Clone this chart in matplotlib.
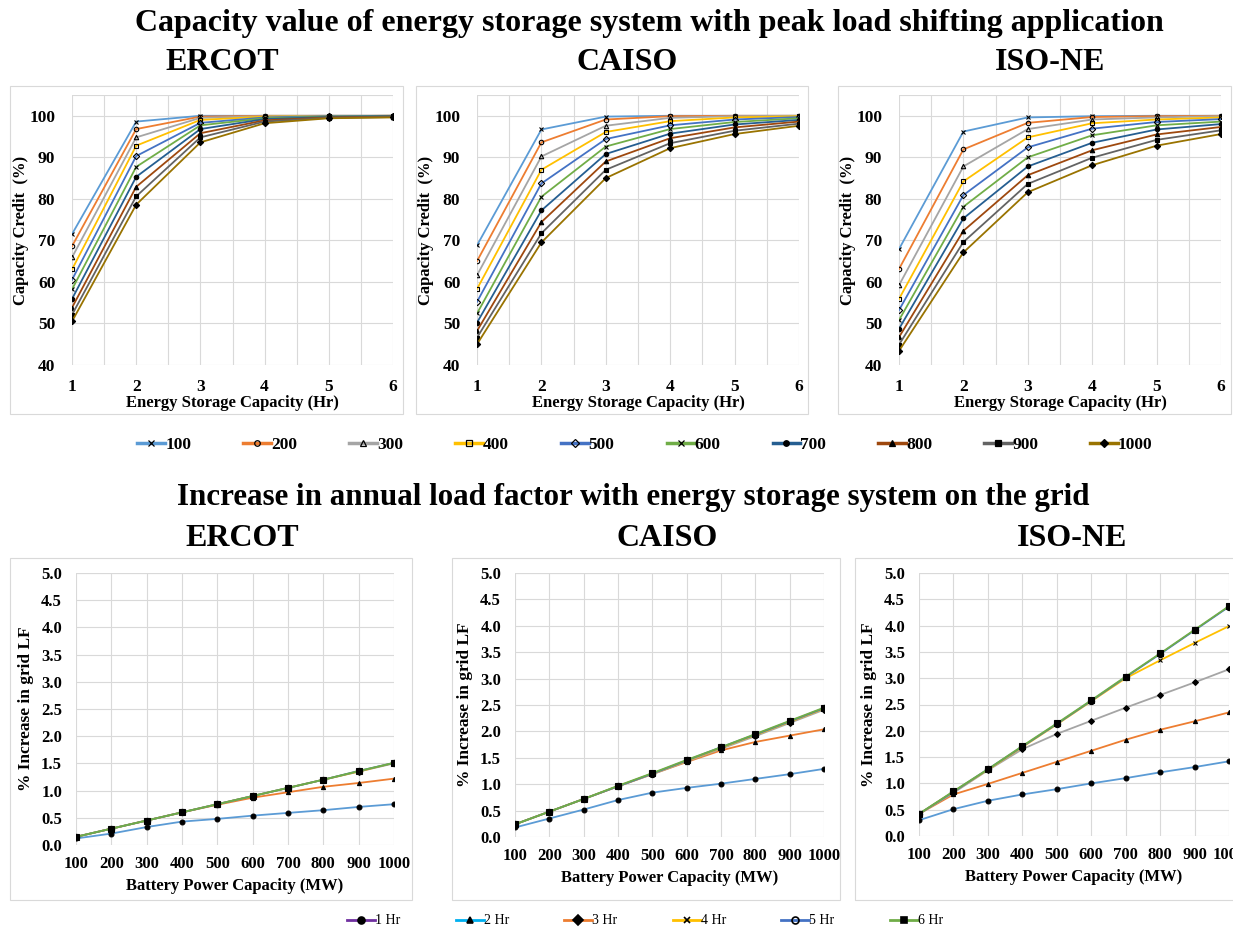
import matplotlib
matplotlib.use("Agg")
import matplotlib.pyplot as plt
from matplotlib.lines import Line2D
from matplotlib.patches import Rectangle
import numpy as np

plt.rcParams['font.family'] = ['Liberation Serif', 'DejaVu Serif']

# ---------------- Data: capacity credit (%) ----------------
hours = [1, 2, 3, 4, 5, 6]
sizes = ['100', '200', '300', '400', '500', '600', '700', '800', '900', '1000']

ercot_cc = {
    '100':  [71.5, 98.6, 100.0, 100.0, 100.0, 100.0],
    '200':  [68.6, 96.8, 99.8, 100.0, 100.0, 100.0],
    '300':  [65.9, 94.8, 99.5, 99.9, 100.0, 100.0],
    '400':  [63.0, 92.8, 99.0, 99.8, 99.9, 100.0],
    '500':  [60.5, 90.3, 98.3, 99.6, 99.9, 100.0],
    '600':  [58.2, 87.7, 97.7, 99.4, 99.8, 99.9],
    '700':  [55.9, 85.3, 96.8, 99.2, 99.7, 99.9],
    '800':  [53.8, 82.9, 95.8, 98.9, 99.6, 99.8],
    '900':  [52.1, 80.6, 94.8, 98.6, 99.5, 99.7],
    '1000': [50.5, 78.6, 93.6, 98.2, 99.4, 99.6],
}
caiso_cc = {
    '100':  [68.8, 96.7, 99.8, 100.0, 100.0, 100.0],
    '200':  [65.0, 93.6, 99.1, 99.9, 100.0, 100.0],
    '300':  [61.6, 90.2, 97.6, 99.5, 99.9, 100.0],
    '400':  [58.3, 87.0, 96.1, 98.7, 99.6, 99.9],
    '500':  [55.2, 83.7, 94.4, 97.7, 99.1, 99.7],
    '600':  [52.4, 80.5, 92.6, 96.8, 98.5, 99.4],
    '700':  [50.2, 77.2, 90.8, 95.7, 97.9, 99.0],
    '800':  [48.2, 74.4, 89.0, 94.6, 97.2, 98.6],
    '900':  [46.6, 71.7, 87.0, 93.4, 96.4, 98.1],
    '1000': [45.0, 69.5, 85.0, 92.2, 95.6, 97.6],
}
isone_cc = {
    '100':  [67.9, 96.2, 99.6, 99.9, 100.0, 100.0],
    '200':  [63.1, 91.9, 98.3, 99.7, 99.9, 100.0],
    '300':  [59.2, 87.8, 96.8, 99.1, 99.6, 99.9],
    '400':  [55.9, 84.2, 94.8, 98.2, 99.1, 99.6],
    '500':  [53.2, 80.9, 92.4, 96.9, 98.5, 99.2],
    '600':  [50.8, 78.1, 90.0, 95.3, 97.7, 98.6],
    '700':  [48.7, 75.3, 87.8, 93.5, 96.7, 98.0],
    '800':  [46.7, 72.3, 85.7, 91.7, 95.5, 97.3],
    '900':  [44.9, 69.6, 83.6, 89.9, 94.2, 96.5],
    '1000': [43.4, 67.1, 81.6, 88.1, 92.8, 95.6],
}

# ---------------- Data: % increase in grid load factor ----------------
power_mw = [100, 200, 300, 400, 500, 600, 700, 800, 900, 1000]
durations = ['1 Hr', '2 Hr', '3 Hr', '4 Hr', '5 Hr', '6 Hr']

ercot_lf = {
    '1 Hr': [0.12, 0.21, 0.33, 0.43, 0.48, 0.54, 0.59, 0.64, 0.70, 0.75],
    '2 Hr': [0.15, 0.30, 0.45, 0.60, 0.74, 0.87, 0.97, 1.07, 1.14, 1.22],
    '3 Hr': [0.15, 0.30, 0.45, 0.60, 0.75, 0.90, 1.05, 1.20, 1.35, 1.50],
    '4 Hr': [0.15, 0.30, 0.45, 0.60, 0.75, 0.90, 1.05, 1.20, 1.35, 1.51],
    '5 Hr': [0.15, 0.30, 0.45, 0.60, 0.75, 0.90, 1.05, 1.20, 1.36, 1.51],
    '6 Hr': [0.15, 0.30, 0.45, 0.60, 0.75, 0.90, 1.05, 1.20, 1.36, 1.51],
}
caiso_lf = {
    '1 Hr': [0.18, 0.35, 0.52, 0.70, 0.84, 0.93, 1.01, 1.10, 1.19, 1.29],
    '2 Hr': [0.24, 0.48, 0.72, 0.96, 1.19, 1.42, 1.64, 1.80, 1.92, 2.04],
    '3 Hr': [0.24, 0.48, 0.72, 0.96, 1.19, 1.43, 1.67, 1.91, 2.16, 2.41],
    '4 Hr': [0.24, 0.48, 0.72, 0.96, 1.20, 1.44, 1.69, 1.93, 2.18, 2.43],
    '5 Hr': [0.24, 0.48, 0.72, 0.96, 1.20, 1.45, 1.70, 1.94, 2.19, 2.44],
    '6 Hr': [0.24, 0.48, 0.72, 0.97, 1.21, 1.46, 1.70, 1.95, 2.20, 2.45],
}
isone_lf = {
    '1 Hr': [0.30, 0.51, 0.67, 0.79, 0.89, 1.00, 1.10, 1.21, 1.31, 1.42],
    '2 Hr': [0.42, 0.79, 0.99, 1.20, 1.41, 1.62, 1.83, 2.02, 2.18, 2.35],
    '3 Hr': [0.42, 0.82, 1.25, 1.65, 1.94, 2.19, 2.44, 2.68, 2.92, 3.17],
    '4 Hr': [0.42, 0.84, 1.26, 1.69, 2.12, 2.56, 3.00, 3.34, 3.67, 3.99],
    '5 Hr': [0.42, 0.84, 1.27, 1.70, 2.13, 2.57, 3.02, 3.46, 3.91, 4.36],
    '6 Hr': [0.42, 0.85, 1.27, 1.71, 2.14, 2.58, 3.03, 3.47, 3.92, 4.37],
}

# ---------------- Styles ----------------
size_colors = ['#5B9BD5', '#ED7D31', '#A5A5A5', '#FFC000', '#4472C4',
               '#70AD47', '#255E91', '#9E480E', '#636363', '#997300']
size_markers = ['x', 'o', '^', 's', 'D', 'x', 'o', '^', 's', 'D']
size_filled = [True, False, False, False, False, True, True, True, True, True]

dur_colors = ['#5B9BD5', '#ED7D31', '#A5A5A5', '#FFC000', '#4472C4', '#70AD47']
dur_markers = ['o', '^', 'D', 'x', 'o', 's']
dur_msize = [3.5, 3, 3, 3, 4.5, 4.5]
legend_dur_colors = ['#7030A0', '#00B0F0', '#ED7D31', '#FFC000', '#4472C4', '#70AD47']
legend_dur_filled = [True, True, True, True, False, True]

W, H = 1233, 933
fig = plt.figure(figsize=(W / 100, H / 100), dpi=100)

def fx(px):
    return px / W

def fy(py):
    return 1 - py / H

def add_axes_px(left, right, top, bottom):
    return fig.add_axes([fx(left), fy(bottom), fx(right - left), (bottom - top) / H])

def frame_px(left, right, top, bottom):
    fig.patches.append(Rectangle((fx(left), fy(bottom)), fx(right - left), (bottom - top) / H,
                                 transform=fig.transFigure, fill=False,
                                 edgecolor='#D9D9D9', linewidth=0.8, zorder=0))

grid_col = '#D9D9D9'

def style_axes(ax):
    for s in ax.spines.values():
        s.set_visible(False)
    for lab in ax.get_xticklabels() + ax.get_yticklabels():
        lab.set_fontweight('bold')

# ---------------- Top row ----------------
fig.text(fx(649), fy(24), 'Capacity value of energy storage system with peak load shifting application',
         ha='center', va='center', fontsize=23, fontweight='bold')

top_specs = [
    ('ERCOT', ercot_cc, 72, 393, 222, 10, 403),
    ('CAISO', caiso_cc, 477, 799, 627, 416, 808),
    ('ISO-NE', isone_cc, 899, 1221, 1050, 838, 1231),
]
for name, data, l, r, tx, fl, fr in top_specs:
    frame_px(fl, fr, 86, 414)
    fig.text(fx(tx), fy(63), name, ha='center', va='center', fontsize=23, fontweight='bold')
    ax = add_axes_px(l, r, 95, 365)
    for i, s in enumerate(sizes):
        mfc = 'black' if size_filled[i] else 'none'
        ax.plot(hours, data[s], color=size_colors[i], lw=1.3, marker=size_markers[i],
                markersize=3.2, markerfacecolor=mfc, markeredgecolor='black',
                markeredgewidth=0.8, zorder=3)
    ax.set_xlim(1, 6)
    ax.set_ylim(40, 105)
    ax.set_yticks(range(40, 101, 10))
    ax.set_xticks(hours)
    ax.set_xticks(np.arange(1.5, 6, 1), minor=True)
    ax.tick_params(which='minor', length=0)
    ax.tick_params(axis='x', which='major', length=0, pad=10, labelsize=12.5)
    ax.tick_params(axis='y', which='major', length=0, pad=12, labelsize=12.5)
    ax.grid(True, which='both', color=grid_col, lw=0.8)
    ax.axhline(105, color=grid_col, lw=0.8)
    ax.set_axisbelow(True)
    style_axes(ax)
    ax.set_ylabel('Capacity Credit  (%)', fontsize=12, fontweight='bold', labelpad=0)
    ax.set_xlabel('Energy Storage Capacity (Hr)', fontsize=12, fontweight='bold', labelpad=0)

# top legend
top_handles = []
for i, s in enumerate(sizes):
    mfc = 'black' if size_filled[i] else 'none'
    top_handles.append(Line2D([], [], color=size_colors[i], lw=2.5, marker=size_markers[i],
                              markersize=4, markerfacecolor=mfc, markeredgecolor='black',
                              markeredgewidth=0.9))
fig.legend(top_handles, sizes, loc='center', bbox_to_anchor=(fx(645), fy(445)), ncol=10,
           frameon=False, handlelength=1.6, handletextpad=0.0, columnspacing=3.0,
           prop={'weight': 'bold', 'size': 12.5})

# ---------------- Bottom row ----------------
fig.text(fx(633), fy(497), 'Increase in annual load factor with energy storage system on the grid',
         ha='center', va='center', fontsize=22.3, fontweight='bold')

bot_specs = [
    ('ERCOT', ercot_lf, 76, 394, 573, 845, 242, 10, 412),
    ('CAISO', caiso_lf, 515, 824, 573, 837, 667, 452, 840),
    ('ISO-NE', isone_lf, 919, 1229, 573, 836, 1072, 855, 1240),
]
for name, data, l, r, t, b, tx, fl, fr in bot_specs:
    frame_px(fl, fr, 558, 900)
    fig.text(fx(tx), fy(538), name, ha='center', va='center', fontsize=23, fontweight='bold')
    ax = add_axes_px(l, r, t, b)
    for i, d in enumerate(durations):
        ax.plot(power_mw, data[d], color=dur_colors[i], lw=1.3, marker=dur_markers[i],
                markersize=dur_msize[i], markerfacecolor='black', markeredgecolor='black',
                markeredgewidth=0.8, zorder=3)
    ax.set_xlim(100, 1000)
    ax.set_ylim(0, 5)
    ax.set_xticks(power_mw)
    ax.set_yticks(np.arange(0, 5.01, 0.5))
    ax.set_yticklabels([f'{v:.1f}' for v in np.arange(0, 5.01, 0.5)])
    ax.grid(True, color=grid_col, lw=0.8)
    ax.axhline(5, color=grid_col, lw=0.8)
    ax.set_axisbelow(True)
    ax.tick_params(axis='x', length=0, pad=8, labelsize=12)
    ax.tick_params(axis='y', length=0, pad=10, labelsize=12)
    style_axes(ax)
    ax.set_ylabel('% Increase in grid LF', fontsize=12.5, fontweight='bold', labelpad=5)
    ax.set_xlabel('Battery Power Capacity (MW)', fontsize=12, fontweight='bold', labelpad=4)

bot_handles = []
for i, d in enumerate(durations):
    mfc = 'black' if legend_dur_filled[i] else 'none'
    bot_handles.append(Line2D([], [], color=legend_dur_colors[i], lw=2, marker=dur_markers[i],
                              markersize=5, markerfacecolor=mfc, markeredgecolor='black',
                              markeredgewidth=1.2))
fig.legend(bot_handles, durations, loc='center', bbox_to_anchor=(fx(645), fy(921)), ncol=6,
           frameon=False, handlelength=2.0, handletextpad=0.0, columnspacing=4.0,
           prop={'size': 10})

fig.savefig('out.png', dpi=100)
